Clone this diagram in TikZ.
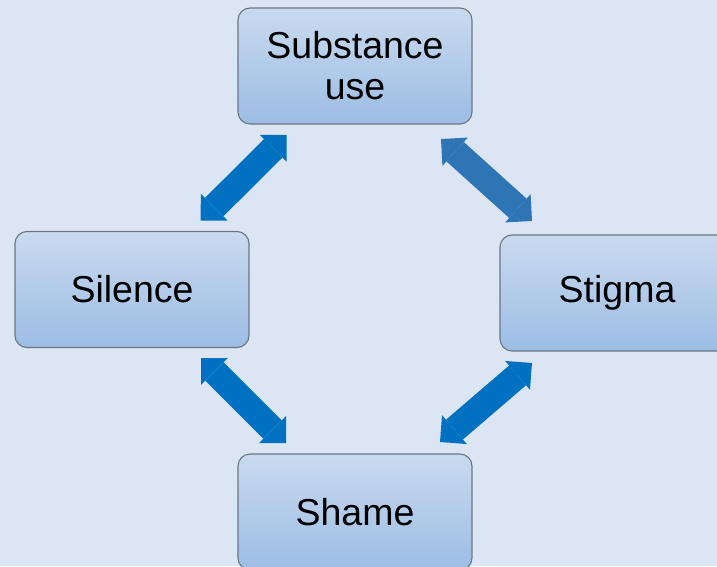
\documentclass[tikz,border=0pt]{standalone}
\usepackage{fontspec}
\setmainfont{Liberation Sans}
\usetikzlibrary{arrows.meta}
\definecolor{bg}{HTML}{DCE5F3}
\definecolor{boxtop}{HTML}{C9DAEF}
\definecolor{boxbot}{HTML}{9CBDE4}
\definecolor{boxline}{HTML}{6B7685}
\definecolor{arrblue}{HTML}{0070C0}
\definecolor{arrblue2}{HTML}{2E75B6}
\begin{document}
\begin{tikzpicture}[x=1pt,y=1pt,
  box/.style={draw=boxline, line width=1.1pt, rounded corners=12pt,
    top color=boxtop, bottom color=boxbot, minimum width=234pt,
    minimum height=116pt, align=center, inner sep=0pt,
    font=\fontsize{37.5}{41}\selectfont},
  dblarrow/.style={line width=26pt, draw=arrblue,
    {Triangle[length=19pt,width=38pt,line width=0pt]}-{Triangle[length=19pt,width=38pt,line width=0pt]}}
]
\useasboundingbox (0,0) rectangle (717,566);
\fill[bg] (0,0) rectangle (717,566);

\node[box] (sub) at (355,500) {Substance\\use};
\node[box] (sil) at (132,276.5) {Silence};
\node[box] (sti) at (617,273) {Stigma};
\node[box] (sha) at (355,54) {Shame};

\coordinate (a1a) at (286.7,431);
\coordinate (a1b) at (200.7,345.5);
\coordinate (a2a) at (441,427);
\coordinate (a2b) at (532,345);
\coordinate (a3a) at (201,208);
\coordinate (a3b) at (286,123);
\coordinate (a4a) at (532,203);
\coordinate (a4b) at (440,124);

\draw[dblarrow] (a1a) -- (a1b);
\draw[dblarrow, draw=arrblue2] (a2a) -- (a2b);
\draw[dblarrow] (a3a) -- (a3b);
\draw[dblarrow] (a4a) -- (a4b);
\end{tikzpicture}
\end{document}
